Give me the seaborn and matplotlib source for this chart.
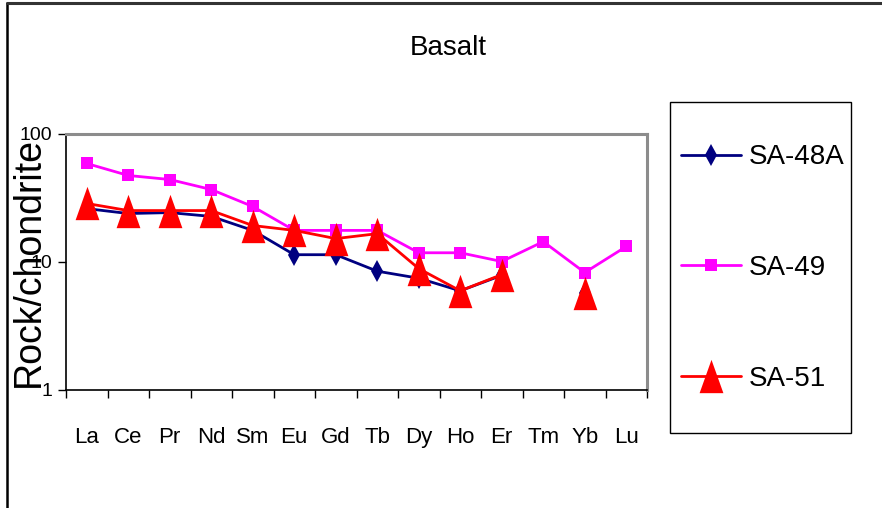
import numpy as np
import pandas as pd
import matplotlib
matplotlib.use("Agg")
import matplotlib.pyplot as plt
from matplotlib.lines import Line2D
from matplotlib.patches import Rectangle
from matplotlib.path import Path
from matplotlib.ticker import FixedLocator, NullFormatter, NullLocator
import seaborn as sns

# Chondrite-normalised REE data
elements = ["La", "Ce", "Pr", "Nd", "Sm", "Eu", "Gd", "Tb", "Dy", "Ho", "Er", "Tm", "Yb", "Lu"]
sa48a = [25.9, 23.7, 24.1, 22.5, 17.5, 11.3, 11.3, 8.4, 7.4, 5.9, 7.8, np.nan, 5.7, np.nan]
sa49 = [58.3, 47.0, 43.7, 36.5, 26.9, 17.5, 17.5, 17.5, 11.7, 11.7, 10.0, 14.3, 8.2, 13.1]
sa51 = [28.4, 25.0, 25.0, 25.0, 19.1, 17.5, 15.1, 16.5, 8.8, 5.9, 7.9, np.nan, 5.7, np.nan]
samples = ["SA-48A", "SA-49", "SA-51"]
y_ticks = [1, 10, 100]
y_tick_labels = ["1", "10", "100"]

sns.set_theme(style="white")
plt.rcParams["font.family"] = ["Liberation Sans", "DejaVu Sans"]

# long-form table; a NaN starts a new line segment
rows = []
for name, vals in zip(samples, [sa48a, sa49, sa51]):
    seg = 0
    for i, v in enumerate(vals):
        if np.isnan(v):
            seg += 1
            continue
        rows.append({"sample": name, "pos": i, "value": v, "seg": f"{name}-{seg}"})
df = pd.DataFrame(rows)

tall_tri = Path([(-1, -1.4), (1, -1.4), (0, 1.4), (-1, -1.4)],
                [Path.MOVETO, Path.LINETO, Path.LINETO, Path.CLOSEPOLY])
palette = {"SA-48A": "#000080", "SA-49": "#FF00FF", "SA-51": "#FF0000"}
markers = {"SA-48A": "d", "SA-49": "s", "SA-51": tall_tri}
msizes = {"SA-48A": 11, "SA-49": 9, "SA-51": 24}

fig = plt.figure(figsize=(8.82, 5.08), dpi=100)
ax = fig.add_axes([66 / 882, 1 - 389.5 / 508, (647 - 66) / 882, (389.5 - 133.5) / 508])

for name in samples:
    sub = df[df["sample"] == name]
    sns.lineplot(data=sub, x="pos", y="value", units="seg", estimator=None,
                 color=palette[name], linewidth=2, marker=markers[name],
                 markersize=msizes[name], markeredgewidth=0,
                 markerfacecolor=palette[name], ax=ax, legend=False, sort=False)

ax.set_yscale("log")
ax.set_ylim(1, 100)
ax.set_xlim(-0.5, len(elements) - 0.5)
ax.yaxis.set_major_locator(FixedLocator(y_ticks))
ax.set_yticklabels(y_tick_labels)
ax.yaxis.set_minor_locator(NullLocator())
ax.set_xticks(range(len(elements)))
ax.set_xticklabels(elements)
ax.set_xticks(np.arange(-0.5, len(elements)), minor=True)
ax.xaxis.set_minor_formatter(NullFormatter())
ax.tick_params(axis="x", which="major", length=0, pad=27, labelsize=16, colors="black")
ax.tick_params(axis="x", which="minor", length=6, width=1, direction="out", bottom=True, color="black")
ax.tick_params(axis="y", which="major", length=6, width=1, direction="out", left=True,
               pad=4, labelsize=14, labelcolor="black", color="black")
ax.set_xlabel("")
ax.set_ylabel("")

for side in ["left", "bottom"]:
    ax.spines[side].set_color("black")
    ax.spines[side].set_linewidth(1.2)
for side in ["top", "right"]:
    ax.spines[side].set_visible(True)
    ax.spines[side].set_color("#8c8c8c")
    ax.spines[side].set_linewidth(2.2)

fig.text(29 / 882, 1 - 262 / 508, "Rock/chondrite", rotation=90, ha="center", va="center",
         fontsize=27, color="black")
fig.text(448 / 882, 1 - 48 / 508, "Basalt", ha="center", va="center", fontsize=20, color="black")

# legend box and entries
fig.add_artist(Rectangle((670 / 882, 1 - 433 / 508), (851 - 670) / 882, (433 - 102) / 508,
                         transform=fig.transFigure, facecolor="white", edgecolor="black",
                         linewidth=1, zorder=1))
handles = [Line2D([], [], color=palette[n], linewidth=2, marker=markers[n],
                  markersize=msizes[n], markeredgewidth=0, markerfacecolor=palette[n])
           for n in samples]
leg = fig.legend(handles, samples, loc="center left", bbox_to_anchor=(681 / 882, 1 - 268 / 508),
                 bbox_transform=fig.transFigure, fontsize=20, frameon=False,
                 borderpad=0, labelspacing=3.05, handlelength=2.15,
                 handletextpad=0.3, borderaxespad=0)
leg.set_zorder(2)
for t in leg.get_texts():
    t.set_color("black")

# page border
fig.add_artist(Line2D([7 / 882, 7 / 882], [0, 1 - 2.5 / 508], transform=fig.transFigure,
                      color="black", linewidth=1.8))
fig.add_artist(Line2D([7 / 882, 1], [1 - 2.5 / 508, 1 - 2.5 / 508], transform=fig.transFigure,
                      color="#333333", linewidth=2.2))

fig.savefig("out.png", dpi=100)
